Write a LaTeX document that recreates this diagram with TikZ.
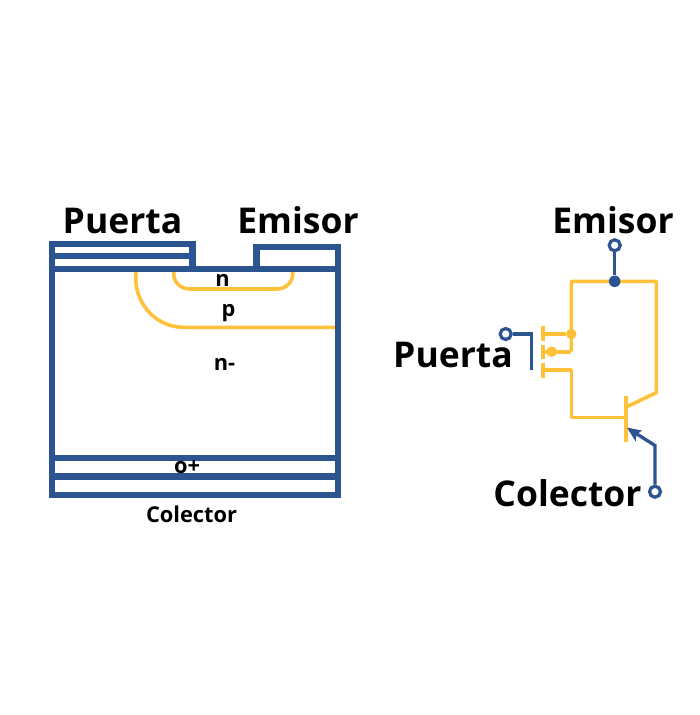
\documentclass[tikz,border=0pt]{standalone}
\usepackage{fontspec}
\setmainfont{Open Sans}
\definecolor{azul}{HTML}{2C5491}
\definecolor{amar}{HTML}{FFC03A}
\tikzset{
  blueline/.style={draw=azul,line width=6.4pt,line join=miter},
  yellowline/.style={draw=amar,line width=3.6pt,line join=round},
  wire/.style={draw=azul,line width=3.3pt},
  bigtext/.style={font=\fontsize{35.5}{42}\selectfont\bfseries,text=black,inner sep=0pt,anchor=base},
  smalltext/.style={font=\fontsize{21.8}{26}\selectfont\bfseries,text=black,inner sep=0pt,anchor=base},
  term/.style={circle,draw=azul,fill=white,line width=3.2pt,minimum size=11pt,inner sep=0pt},
  bluedot/.style={circle,fill=azul,minimum size=11.5pt,inner sep=0pt},
  yellowdot/.style={circle,fill=amar,minimum size=10.5pt,inner sep=0pt}
}
\begin{document}
\begin{tikzpicture}[x=1pt,y=-1pt]
\useasboundingbox[fill=white] (0,0) rectangle (700,715);
% cross-section
\draw[yellowline] (135.7,270) -- (135.7,278) arc[start angle=180,end angle=90,x radius=48,y radius=49.3] -- (336,327.3);
\draw[yellowline] (173.7,270) -- (173.7,274) arc[start angle=180,end angle=90,x radius=16,y radius=15] -- (277,289) arc[start angle=90,end angle=0,x radius=15.7,y radius=15] -- (292.7,270);
\draw[blueline] (192.5,268.7) -- (192.5,243.7) -- (52,243.7) -- (52,494.7) -- (338,494.7) -- (338,247) -- (256.3,247) -- (256.3,268.7);
\draw[blueline] (52,268.7) -- (338,268.7);
\draw[blueline] (52,256) -- (192.5,256);
\draw[blueline] (52,457.7) -- (338,457.7);
\draw[blueline] (52,476.3) -- (338,476.3);
\node[bigtext] (puertaA) at (122.5,233) {Puerta};
\node[bigtext] (emisorA) at (298,233) {Emisor};
\node[smalltext] (n) at (222.5,286) {n};
\node[smalltext] (p) at (228.5,316) {p};
\node[smalltext] (nm) at (224.5,370) {n-};
\node[smalltext] (op) at (187,473) {o+};
\node[smalltext] (colA) at (191.5,522.5) {Colector};
% symbol: coordinates
\coordinate (tl) at (571.3,281.3);
\coordinate (tr) at (656.3,281.3);
\coordinate (cr) at (656.3,392.7);
\coordinate (be) at (625.7,407.3);
\coordinate (bl) at (625.7,417.3);
\coordinate (ml) at (571.3,417.3);
\coordinate (m3) at (571.3,370);
\coordinate (c3) at (542.7,370);
\coordinate (m2) at (571.3,351.7);
\coordinate (c2) at (542.7,351.7);
\coordinate (c1) at (542.7,334);
\coordinate (gt) at (531.7,334);
\coordinate (gb) at (531.7,370);
\coordinate (ck) at (655,445.5);
\coordinate (ctip) at (627,427.7);
\coordinate (cstem) at (630,429.6);
\coordinate (h1) at (642,430.5);
\coordinate (h2) at (635.7,441.5);
\coordinate (hn) at (636.5,434.5);
\node[yellowdot] (d1) at (571.3,334) {};
\node[yellowdot] (d2) at (551.7,351.7) {};
\draw[yellowline] (m2) -- (tl) -- (tr) -- (cr) -- (be);
\draw[yellowline] (c1) -- (d1);
\draw[yellowline] (c2) -- (m2);
\draw[yellowline] (c3) -- (m3) -- (ml) -- (bl);
\draw[yellowline] (542.7,326) -- (542.7,341);
\draw[yellowline] (542.7,345) -- (542.7,359.3);
\draw[yellowline] (542.7,363.3) -- (542.7,378);
\draw[yellowline] (625.7,396) -- (625.7,442.3);
\node[bluedot] (de) at (614.7,281.3) {};
\node[term] (te) at (614.7,245.3) {};
\node[term] (tg) at (505.7,334) {};
\node[term] (tc) at (655,491.7) {};
\draw[wire] (te) -- (de);
\draw[wire] (tg) -- (gt) -- (gb);
\draw[wire] (tc) -- (ck) -- (cstem);
\fill[azul] (ctip) -- (h1) -- (hn) -- (h2) -- cycle;
\node[bigtext] (emisorB) at (613,233) {Emisor};
\node[bigtext] (puertaB) at (453,367) {Puerta};
\node[bigtext] (colB) at (567.5,506) {Colector};
\end{tikzpicture}
\end{document}
